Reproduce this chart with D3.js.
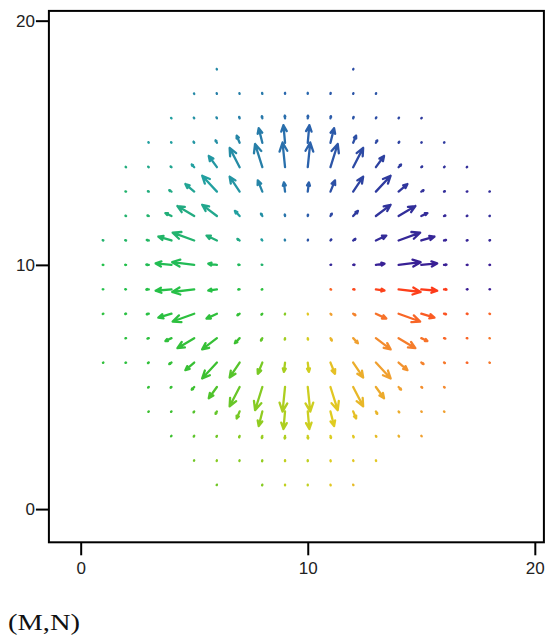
<!DOCTYPE html>
<html>
<head>
<meta charset="utf-8">
<script src="https://cdn.jsdelivr.net/npm/d3@7"></script>
<style>
  body { margin: 0; background: #fff; }
  .tick text { font-family: "Liberation Sans", Arial, sans-serif; font-size: 17px; fill: #222; }
  .tick line { stroke: #000; stroke-width: 2; }
</style>
</head>
<body>
<script>
// grid columns (M) and rows (N), rows listed from top to bottom
var gridX = [1, 2, 3, 4, 5, 6, 7, 8, 9, 10, 11, 12, 13, 14, 15, 16, 17, 18];
var gridY = [18, 17, 16, 15, 14, 13, 12, 11, 10, 9, 8, 7, 6, 5, 4, 3, 2, 1];
var xTicks = [0, 10, 20];
var yTicks = [0, 10, 20];

// horizontal component of each arrow, one array per row (null = no arrow)
var uRows = [
  [null,null,null,null,null,-0.01,null,null,null,null,null,0.01,null,null,null,null,null,null],
  [null,null,null,null,-0.01,-0.01,-0.01,-0.01,0,0,0.01,0.01,0.01,null,null,null,null,null],
  [null,null,null,-0.02,-0.02,-0.02,-0.02,-0.02,-0.01,0.01,0.02,0.02,0.02,0.02,0.02,null,null,null],
  [null,null,-0.02,-0.02,-0.03,-0.06,-0.13,-0.16,-0.07,0.07,0.16,0.13,0.06,0.03,0.02,0.02,null,null],
  [null,-0.02,-0.03,-0.04,-0.11,-0.36,-0.44,-0.32,-0.11,0.11,0.32,0.44,0.36,0.11,0.04,0.03,0.02,null],
  [null,-0.03,-0.04,-0.10,-0.39,-0.65,-0.44,-0.20,-0.05,0.05,0.20,0.44,0.65,0.39,0.10,0.04,0.03,0.02],
  [null,-0.03,-0.06,-0.27,-0.74,-0.65,-0.21,-0.06,-0.01,0.01,0.06,0.21,0.65,0.74,0.27,0.06,0.03,0.02],
  [-0.03,-0.04,-0.09,-0.58,-0.95,-0.46,-0.10,-0.04,-0.01,0.01,0.04,0.10,0.46,0.95,0.58,0.09,0.04,0.03],
  [-0.03,-0.04,-0.11,-0.70,-0.97,-0.38,-0.06,-0.03,0,0,0.03,0.06,0.38,0.97,0.70,0.11,0.04,0.03],
  [-0.03,-0.04,-0.11,-0.70,-0.97,-0.38,-0.06,-0.03,0,0,0.03,0.06,0.38,0.97,0.70,0.11,0.04,0.03],
  [-0.03,-0.04,-0.09,-0.58,-0.95,-0.46,-0.10,-0.04,-0.01,0.01,0.04,0.10,0.46,0.95,0.58,0.09,0.04,0.03],
  [null,-0.03,-0.06,-0.27,-0.74,-0.65,-0.21,-0.06,-0.01,0.01,0.06,0.21,0.65,0.74,0.27,0.06,0.03,0.02],
  [-0.02,-0.03,-0.04,-0.10,-0.39,-0.65,-0.44,-0.20,-0.05,0.05,0.20,0.44,0.65,0.39,0.10,0.04,0.03,0.02],
  [null,null,-0.03,-0.04,-0.11,-0.36,-0.44,-0.32,-0.11,0.11,0.32,0.44,0.36,0.11,0.04,0.03,null,null],
  [null,null,-0.02,-0.02,-0.03,-0.06,-0.13,-0.16,-0.07,0.07,0.16,0.13,0.06,0.03,0.02,0.02,null,null],
  [null,null,null,-0.02,-0.02,-0.02,-0.02,-0.02,-0.01,0.01,0.02,0.02,0.02,0.02,0.02,null,null,null],
  [null,null,null,null,-0.01,-0.01,-0.01,-0.01,0,0,0.01,0.01,0.01,null,null,null,null,null],
  [null,null,null,null,null,-0.01,null,-0.01,0,0,0.01,0.01,null,null,null,null,null,null]
];

// vertical component of each arrow
var vRows = [
  [null,null,null,null,null,0.02,null,null,null,null,null,0.02,null,null,null,null,null,null],
  [null,null,null,null,0.02,0.03,0.03,0.04,0.04,0.04,0.04,0.03,0.03,null,null,null,null,null],
  [null,null,null,0.02,0.03,0.04,0.06,0.09,0.11,0.11,0.09,0.06,0.04,0.03,0.02,null,null,null],
  [null,null,0.02,0.02,0.04,0.10,0.29,0.60,0.72,0.72,0.60,0.29,0.10,0.04,0.02,0.02,null,null],
  [null,0.01,0.02,0.03,0.11,0.46,0.79,0.95,1.01,1.01,0.95,0.79,0.46,0.11,0.03,0.02,0.01,null],
  [null,0.01,0.02,0.06,0.31,0.65,0.61,0.46,0.38,0.38,0.46,0.61,0.65,0.31,0.06,0.02,0.01,0.01],
  [null,0.01,0.02,0.12,0.41,0.46,0.21,0.10,0.06,0.06,0.10,0.21,0.46,0.41,0.12,0.02,0.01,0.01],
  [0.01,0.01,0.02,0.16,0.32,0.20,0.06,0.04,0.03,0.03,0.04,0.06,0.20,0.32,0.16,0.02,0.01,0.01],
  [0,0,0.01,0.06,0.11,0.05,0.01,0.01,0,0,0.01,0.01,0.05,0.11,0.06,0.01,0,0],
  [0,0,-0.01,-0.06,-0.11,-0.05,-0.01,-0.01,0,0,-0.01,-0.01,-0.05,-0.11,-0.06,-0.01,0,0],
  [-0.01,-0.01,-0.02,-0.16,-0.32,-0.20,-0.06,-0.04,-0.03,-0.03,-0.04,-0.06,-0.20,-0.32,-0.16,-0.02,-0.01,-0.01],
  [null,-0.01,-0.02,-0.12,-0.41,-0.46,-0.21,-0.10,-0.06,-0.06,-0.10,-0.21,-0.46,-0.41,-0.12,-0.02,-0.01,-0.01],
  [-0.01,-0.01,-0.02,-0.06,-0.31,-0.65,-0.61,-0.46,-0.38,-0.38,-0.46,-0.61,-0.65,-0.31,-0.06,-0.02,-0.01,-0.01],
  [null,null,-0.02,-0.03,-0.11,-0.46,-0.79,-0.95,-1.01,-1.01,-0.95,-0.79,-0.46,-0.11,-0.03,-0.02,null,null],
  [null,null,-0.02,-0.02,-0.04,-0.10,-0.29,-0.60,-0.72,-0.72,-0.60,-0.29,-0.10,-0.04,-0.02,-0.02,null,null],
  [null,null,null,-0.02,-0.03,-0.04,-0.06,-0.09,-0.11,-0.11,-0.09,-0.06,-0.04,-0.03,-0.02,null,null,null],
  [null,null,null,null,-0.02,-0.03,-0.03,-0.04,-0.04,-0.04,-0.04,-0.03,-0.03,null,null,null,null,null],
  [null,null,null,null,null,-0.02,null,-0.03,-0.03,-0.03,-0.03,-0.02,null,null,null,null,null,null]
];

var width = 548;
var height = 638;

var svg = d3.select("body")
            .append("svg")
               .attr("width", width)
               .attr("height", height);

var x = d3.scaleLinear()
         .domain([-1.4, 20.4])
         .range([48.9, 543.9]);

var y = d3.scaleLinear()
         .domain([-1.36, 20.4])
         .range([542.3, 10.9]);

// arrow colour follows the direction angle (degrees, 0..360)
var color = d3.scaleLinear()
         .domain([0, 45, 90, 135, 180, 225, 255, 270, 285, 315, 340, 360])
         .range(["#3a1c94", "#2e3a9e", "#2a68ae", "#22a0a0", "#22c04a", "#3cc030",
                 "#90cc20", "#c0d020", "#e0cc20", "#f0a030", "#f86a28", "#ff2a14"]);

// flatten rows into arrows
var arrows = [];
gridY.forEach(function(gy, r) {
   gridX.forEach(function(gx, c) {
      var u = uRows[r][c], v = vRows[r][c];
      if (u === null || v === null) return;
      if (u === 0 && v === 0) return;
      arrows.push({x: gx, y: gy, u: u, v: v});
   });
});

function arrowPath(d) {
   var x0 = x(d.x), y0 = y(d.y);
   var x1 = x(d.x + d.u), y1 = y(d.y + d.v);
   var dx = x1 - x0, dy = y1 - y0;
   var a = 0.35, b = 0.45;
   var bx = x1 - a * dx, by = y1 - a * dy;
   var px = -dy * a * b, py = dx * a * b;
   return "M" + x0 + "," + y0 + "L" + x1 + "," + y1 +
          "M" + (bx + px) + "," + (by + py) + "L" + x1 + "," + y1 +
          "L" + (bx - px) + "," + (by - py);
}

svg.append("g")
   .attr("class", "arrows")
   .selectAll("path")
   .data(arrows)
   .enter().append("path")
      .attr("d", arrowPath)
      .attr("fill", "none")
      .attr("stroke", function(d) {
         var ang = Math.atan2(d.v, d.u) * 180 / Math.PI;
         if (ang < 0) ang += 360;
         return color(ang);
      })
      .attr("stroke-width", 2.3)
      .attr("stroke-linecap", "round")
      .attr("stroke-linejoin", "round");

//box round the plot
svg.append("rect")
   .attr("x", x(-1.4))
   .attr("y", y(20.4))
   .attr("width", x(20.4) - x(-1.4))
   .attr("height", y(-1.36) - y(20.4))
   .attr("fill", "none")
   .attr("stroke", "#000")
   .attr("stroke-width", 2);

var xAxis = d3.axisBottom(x)
      .tickValues(xTicks)
      .tickSize(13)
      .tickPadding(7);

var yAxis = d3.axisLeft(y)
      .tickValues(yTicks)
      .tickSize(13)
      .tickPadding(1);

svg.append("g")
   .attr("class", "x axis")
   .attr("transform", "translate(0," + y(-1.36) + ")")
   .call(xAxis)
   .call(function(g) { g.select(".domain").remove(); });

svg.append("g")
   .attr("class", "y axis")
   .attr("transform", "translate(" + x(-1.4) + ",0)")
   .call(yAxis)
   .call(function(g) { g.select(".domain").remove(); });

svg.selectAll(".tick text").attr("font-size", null).attr("font-family", null);

svg.append("text")
   .attr("x", 8)
   .attr("y", 630)
   .attr("textLength", 72)
   .attr("lengthAdjust", "spacingAndGlyphs")
   .style("font-family", "'Liberation Serif', 'Times New Roman', serif")
   .style("font-size", "24px")
   .style("fill", "#111")
   .text("(M,N)");
</script>
</body>
</html>
